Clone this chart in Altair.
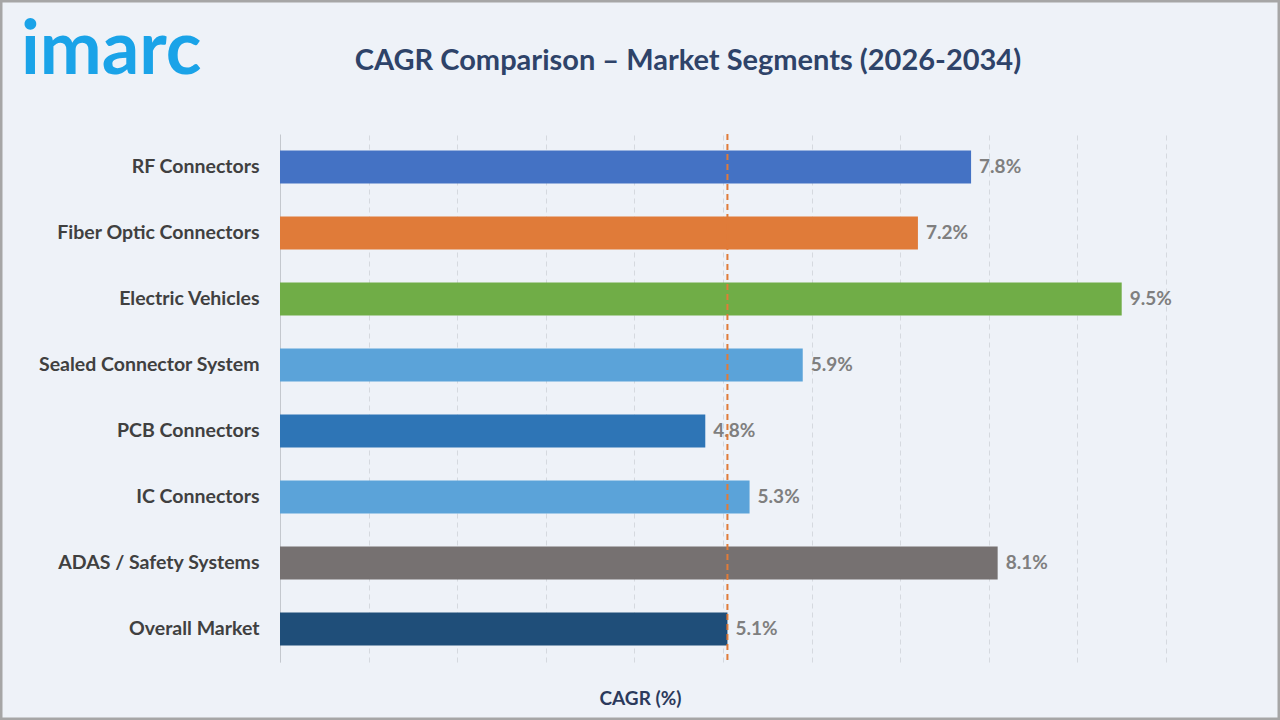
import altair as alt
import pandas as pd

categories = ["RF Connectors", "Fiber Optic Connectors", "Electric Vehicles",
              "Sealed Connector System", "PCB Connectors", "IC Connectors",
              "ADAS / Safety Systems", "Overall Market"]
values = [7.8, 7.2, 9.5, 5.9, 4.8, 5.3, 8.1, 5.05]
labels = ["7.8%", "7.2%", "9.5%", "5.9%", "4.8%", "5.3%", "8.1%", "5.1%"]
colors = ["#4472C4", "#E07B39", "#70AD47", "#5BA3D9", "#2E75B6", "#5BA3D9",
          "#767171", "#1F4E79"]
reference_value = [5.05]
grid_values = list(range(11))

df = pd.DataFrame({"cat": categories, "val": values, "lab": labels, "col": colors})
ref = pd.DataFrame({"v": reference_value})

W, H = 886, 528
TOP, LEFT = 134, 280
FONT = "Lato"

xscale = alt.Scale(domain=[0, 10], nice=False)
yscale = alt.Scale(paddingInner=0.5, paddingOuter=0.25)

yaxis = alt.Axis(title=None, ticks=False, domain=True, domainColor="#c4c8ce",
                 labelFont=FONT, labelFontSize=19.5, labelFontWeight="bold",
                 labelColor="#404040", labelPadding=21, labelLimit=320)
xaxis = alt.Axis(title="CAGR (%)", labels=False, ticks=False, domain=False,
                 values=grid_values,
                 grid=True, gridColor="#d5d9df", gridDash=[5, 4], gridWidth=1,
                 titleFont=FONT, titleFontSize=19, titleFontWeight="bold",
                 titleColor="#2B3A5C", titleX=640 - LEFT, titleY=698 - TOP - H,
                 titleBaseline="middle", titleAnchor="middle", titleAlign="center")

base = alt.Chart(df)

bars = base.mark_bar().encode(
    y=alt.Y("cat:N", sort=categories, scale=yscale, axis=yaxis),
    x=alt.X("val:Q", scale=xscale, axis=xaxis),
    color=alt.Color("col:N", scale=None),
)

text = base.mark_text(align="left", baseline="middle", dx=8, font=FONT,
                      fontSize=19, fontWeight="bold", color="#7f7f7f").encode(
    y=alt.Y("cat:N", sort=categories, scale=yscale, axis=yaxis),
    x=alt.X("val:Q", scale=xscale, axis=xaxis),
    text="lab:N",
)

refline = alt.Chart(ref).mark_rule(color="#E07B39", strokeDash=[6, 4], strokeWidth=2).encode(
    x=alt.X("v:Q", scale=xscale, axis=xaxis)
)

logo = alt.Chart(pd.DataFrame({"t": ["imarc"]})).mark_text(
    align="left", baseline="alphabetic", font=FONT, fontSize=74, fontWeight="bold",
    color="#1AA3E8").encode(x=alt.value(21 - LEFT), y=alt.value(74 - TOP), text="t:N")

title = alt.Chart(pd.DataFrame({"t": ["CAGR Comparison \u2013 Market Segments (2026-2034)"]})).mark_text(
    align="center", baseline="alphabetic", font=FONT, fontSize=29, fontWeight="bold",
    color="#2E4369").encode(x=alt.value(688 - LEFT), y=alt.value(70 - TOP), text="t:N")

border = alt.Chart(pd.DataFrame({"a": [0]})).mark_rect(
    fill=None, stroke="#a6a6a6", strokeWidth=3).encode(
    x=alt.value(1 - LEFT), x2=alt.value(1279 - LEFT), y=alt.value(1 - TOP), y2=alt.value(719 - TOP))

chart = alt.layer(bars, text, refline, logo, title, border).properties(
    width=W, height=H,
    background="#EEF2F8",
    padding={"left": LEFT, "top": TOP, "right": 1280 - LEFT - W, "bottom": 720 - TOP - H},
    autosize=alt.AutoSizeParams(type="none"),
).configure_view(stroke=None)

chart.save("out.html", embed_options={"renderer": "svg", "actions": False})
